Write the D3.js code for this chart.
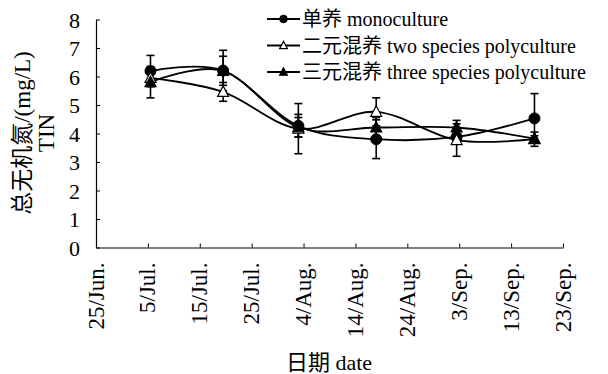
<!DOCTYPE html>
<html>
<head>
<meta charset="utf-8">
<script src="https://cdn.jsdelivr.net/npm/d3@7"></script>
<style>
  html, body { margin: 0; padding: 0; background: #fff; }
  svg { display: block; }
  text { font-family: "Liberation Serif", "Times New Roman", "Noto Sans CJK SC", serif; fill: #000; }
</style>
</head>
<body>
<svg id="chart" width="608" height="374"></svg>
<script>
// Sampling days, counted from 25 June
const sampleDays = [10.5, 24.5, 39, 54, 69.5, 84.5];

// Total inorganic nitrogen (mg/L) and standard deviations per treatment
const monoValues  = [6.19, 6.21, 4.27, 3.80, 3.88, 4.53];
const monoErr     = [0.55, 0.71, 0.40, 0.68, 0.20, 0.87];
const twoValues   = [5.95, 5.46, 4.17, 4.76, 3.77, 3.80];
const twoErr      = [0.20, 0.33, 0.88, 0.49, 0.57, 0.25];
const threeValues = [5.80, 6.20, 4.22, 4.21, 4.21, 3.82];
const threeErr    = [0.55, 0.51, 0.34, 0.35, 0.25, 0.10];

// Axis ticks
const xTickDays   = [0, 10, 20, 30, 40, 50, 60, 70, 80, 90];
const xTickLabels = ["25/Jun.", "5/Jul.", "15/Jul.", "25/Jul.", "4/Aug.", "14/Aug.", "24/Aug.", "3/Sep.", "13/Sep.", "23/Sep."];
const yTicks      = [0, 1, 2, 3, 4, 5, 6, 7, 8];

const seriesNames = ["单养 monoculture", "二元混养 two species polyculture", "三元混养 three species polyculture"];
const seriesMarkers = ["circle", "openTriangle", "filledTriangle"];

const series = [
  { name: seriesNames[0], marker: seriesMarkers[0], values: monoValues,  err: monoErr },
  { name: seriesNames[1], marker: seriesMarkers[1], values: twoValues,   err: twoErr },
  { name: seriesNames[2], marker: seriesMarkers[2], values: threeValues, err: threeErr }
];

const svg = d3.select("#chart");
const plot = { left: 96, right: 563, top: 19.5, bottom: 247.5 };

const x = d3.scaleLinear().domain([0, 90]).range([plot.left, plot.right]);
const y = d3.scaleLinear().domain([0, 8]).range([plot.bottom, plot.top]);

// Axes (ticks point inward)
const yAxis = d3.axisLeft(y).tickValues(yTicks).tickSizeInner(-4).tickSizeOuter(0).tickPadding(16);
const gy = svg.append("g").attr("transform", `translate(${plot.left},0)`).call(yAxis);
gy.select(".domain").attr("stroke", "#000").attr("stroke-width", 1.2);
gy.selectAll(".tick line").attr("stroke", "#000").attr("stroke-width", 1);
gy.selectAll(".tick text").attr("font-size", 22).attr("dy", "0.35em")
  .style("font-family", "'Liberation Serif', serif");

const xAxis = d3.axisBottom(x).tickValues(xTickDays).tickSizeInner(-4).tickSizeOuter(0)
  .tickFormat((d, i) => xTickLabels[i]);
const gx = svg.append("g").attr("transform", `translate(0,${plot.bottom})`).call(xAxis);
gx.select(".domain").attr("stroke", "#000").attr("stroke-width", 1.2);
gx.selectAll(".tick line").attr("stroke", "#000").attr("stroke-width", 1);
gx.selectAll(".tick text")
  .attr("font-size", 23)
  .attr("text-anchor", "end")
  .attr("transform", "translate(-1,15) rotate(-90)")
  .attr("x", 0).attr("y", 0).attr("dy", "0.35em")
  .style("font-family", "'Liberation Serif', serif");

// Axis titles
svg.append("text")
  .attr("x", 329).attr("y", 362).attr("dy", "0.35em")
  .attr("text-anchor", "middle").attr("font-size", 22)
  .text("日期 date");

const yTitle = svg.append("text")
  .attr("transform", `translate(22,133) rotate(-90)`)
  .attr("text-anchor", "middle").attr("font-size", 23);
yTitle.append("tspan").attr("x", 0).attr("dy", "0.35em").text("总无机氮/(mg/L)");
yTitle.append("tspan").attr("x", 0).attr("dy", "1.05em").text("TIN");

// Smoothed series lines
const line = d3.line()
  .x((d, i) => x(sampleDays[i]))
  .y(d => y(d))
  .curve(d3.curveCardinal.tension(0));

series.forEach(s => {
  svg.append("path")
    .attr("d", line(s.values))
    .attr("fill", "none")
    .attr("stroke", "#000")
    .attr("stroke-width", 1.8);
});

// Error bars
const capHalf = 4;
series.forEach(s => {
  const g = svg.append("g").attr("stroke", "#000").attr("stroke-width", 1.6);
  s.values.forEach((v, i) => {
    const cx = x(sampleDays[i]);
    const y1 = y(v + s.err[i]), y2 = y(v - s.err[i]);
    g.append("line").attr("x1", cx).attr("x2", cx).attr("y1", y1).attr("y2", y2);
    g.append("line").attr("x1", cx - capHalf).attr("x2", cx + capHalf).attr("y1", y1).attr("y2", y1);
    g.append("line").attr("x1", cx - capHalf).attr("x2", cx + capHalf).attr("y1", y2).attr("y2", y2);
  });
});

// Markers
function drawMarker(g, type, cx, cy, size) {
  if (type === "circle") {
    g.append("circle").attr("cx", cx).attr("cy", cy).attr("r", size * 0.55)
      .attr("fill", "#000").attr("stroke", "#000");
  } else {
    const h = size;
    const pts = [[cx, cy - h * 0.6], [cx - h * 0.55, cy + h * 0.45], [cx + h * 0.55, cy + h * 0.45]];
    g.append("polygon").attr("points", pts.map(p => p.join(",")).join(" "))
      .attr("fill", type === "openTriangle" ? "#fff" : "#000")
      .attr("stroke", "#000").attr("stroke-width", 1.2);
  }
}

series.forEach(s => {
  const g = svg.append("g");
  s.values.forEach((v, i) => drawMarker(g, s.marker, x(sampleDays[i]), y(v), 10));
});

// Legend
const legend = svg.append("g");
series.forEach((s, i) => {
  const ly = 19 + i * 26.5;
  legend.append("line").attr("x1", 267).attr("x2", 300).attr("y1", ly).attr("y2", ly)
    .attr("stroke", "#000").attr("stroke-width", 1.8);
  drawMarker(legend, s.marker, 283.5, ly, 7);
  legend.append("text").attr("x", 302).attr("y", ly).attr("dy", "0.35em")
    .attr("font-size", 20).text(s.name);
});
</script>
</body>
</html>
